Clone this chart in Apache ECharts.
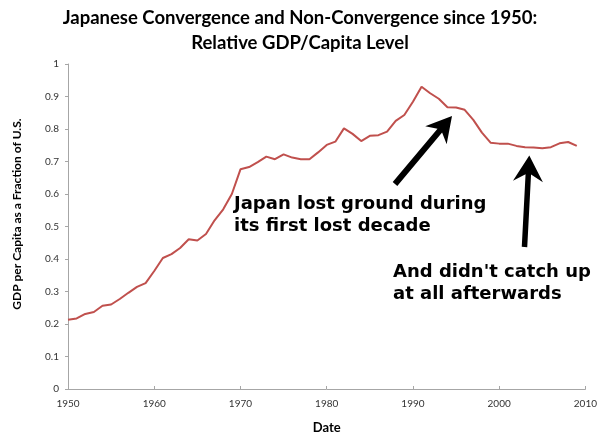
<!DOCTYPE html>
<html>
<head>
<meta charset="utf-8">
<script src="https://cdn.jsdelivr.net/npm/echarts@6/dist/echarts.min.js"></script>
<style>html,body{margin:0;padding:0;background:#fff}#c{width:600px;height:439px}</style>
</head>
<body>
<div id="c"></div>
<script>
const years = [1950,1951,1952,1953,1954,1955,1956,1957,1958,1959,
  1960,1961,1962,1963,1964,1965,1966,1967,1968,1969,
  1970,1971,1972,1973,1974,1975,1976,1977,1978,1979,
  1980,1981,1982,1983,1984,1985,1986,1987,1988,1989,
  1990,1991,1992,1993,1994,1995,1996,1997,1998,1999,
  2000,2001,2002,2003,2004,2005,2006,2007,2008,2009];
const relativeGdp = [0.213,0.217,0.231,0.237,0.256,0.260,0.277,0.296,0.314,0.326,
  0.363,0.403,0.415,0.434,0.461,0.457,0.477,0.519,0.553,0.600,
  0.676,0.683,0.698,0.715,0.707,0.722,0.712,0.707,0.707,0.728,
  0.751,0.761,0.802,0.785,0.763,0.779,0.781,0.792,0.825,0.843,
  0.884,0.930,0.910,0.893,0.867,0.866,0.859,0.828,0.789,0.758,
  0.755,0.755,0.748,0.744,0.743,0.741,0.744,0.756,0.760,0.748];
const titleLines = ['Japanese Convergence and Non-Convergence since 1950:', 'Relative GDP/Capita Level'];
const annotation1 = ['Japan lost ground during', 'its first lost decade'];
const annotation2 = ["And didn't catch up", 'at all afterwards'];

function arrow(tail, tip, w, L, H, notch) {
  const dx = tip[0]-tail[0], dy = tip[1]-tail[1];
  const len = Math.hypot(dx, dy);
  const u = [dx/len, dy/len], n = [-u[1], u[0]];
  const p = (b, a, c) => [b[0]+u[0]*a+n[0]*c, b[1]+u[1]*a+n[1]*c];
  return {
    type: 'polygon',
    shape: { points: [
      p(tail, 0, w/2), p(tip, -(L-notch), w/2), p(tip, -L, H), tip,
      p(tip, -L, -H), p(tip, -(L-notch), -w/2), p(tail, 0, -w/2)
    ]},
    style: { fill: '#000' }
  };
}

const chart = echarts.init(document.getElementById('c'));
const txt = (x, y, s, opts) => ({ type: 'text', x: x, y: y, style: Object.assign({
  text: s, fill: '#000', font: 'bold 18px "DejaVu Sans"', textAlign: 'left', textVerticalAlign: 'middle'
}, opts || {}) });

chart.setOption({
  animation: false,
  grid: { left: 68, right: 13, top: 64, bottom: 49.5 },
  xAxis: {
    type: 'value', min: 1950, max: 2010, interval: 10,
    name: 'Date', nameLocation: 'middle', nameGap: 32,
    nameTextStyle: { fontFamily: 'Lato', fontWeight: 'bold', fontSize: 13, color: '#000' },
    axisLine: { lineStyle: { color: '#a6a6a6', width: 1 } },
    axisTick: { show: true, inside: true, length: 3, lineStyle: { color: '#a6a6a6' } },
    axisLabel: { formatter: v => String(v), fontFamily: 'Lato', fontSize: 10, color: '#333', margin: 10 },
    splitLine: { show: false }
  },
  yAxis: {
    type: 'value', min: 0, max: 1, interval: 0.1,
    axisLine: { show: true, lineStyle: { color: '#a6a6a6', width: 1 } },
    axisTick: { show: true, length: 3, lineStyle: { color: '#a6a6a6' } },
    axisLabel: { formatter: v => String(Math.round(v*10)/10), fontFamily: 'Lato', fontSize: 10, color: '#333', margin: 9 },
    splitLine: { show: false }
  },
  series: [{
    type: 'line', data: years.map((y, i) => [y, relativeGdp[i]]),
    showSymbol: false, lineStyle: { color: '#C0504D', width: 2 }
  }],
  graphic: [
    txt(300, 18, titleLines[0], { font: 'bold 18.5px Lato', textAlign: 'center' }),
    txt(300, 43, titleLines[1], { font: 'bold 18.5px Lato', textAlign: 'center' }),
    { type: 'text', x: 17, y: 214, rotation: Math.PI/2, style: {
      text: 'GDP per Capita as a Fraction of U.S.', fill: '#000', font: 'bold 12px Lato',
      textAlign: 'center', textVerticalAlign: 'middle' } },
    txt(234, 204, annotation1[0]),
    txt(234, 226, annotation1[1]),
    txt(393, 272, annotation2[0]),
    txt(393, 294, annotation2[1]),
    arrow([395, 184], [452, 116], 6, 25, 14, 6),
    arrow([524.5, 247], [529.3, 155.5], 5.5, 26, 15, 7)
  ]
});
</script>
</body>
</html>
